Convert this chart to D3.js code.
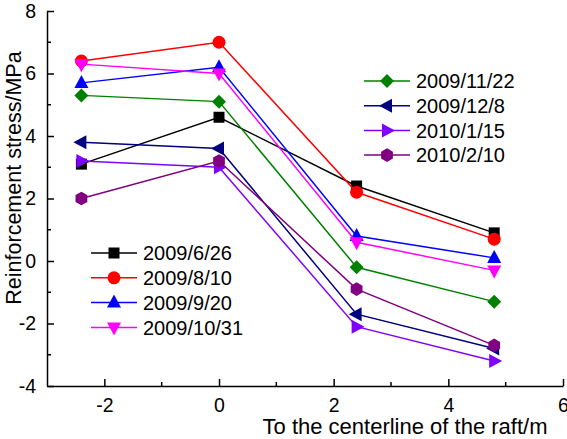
<!DOCTYPE html>
<html>
<head>
<meta charset="utf-8">
<script src="https://cdn.jsdelivr.net/npm/d3@7"></script>
<style>
  body { margin: 0; background: #fff; }
  text { font-family: "Liberation Sans", Arial, sans-serif; }
</style>
</head>
<body>
<div id="chart"></div>
<script>
// distance from raft centerline (m)
var positions = [-2.4, 0, 2.4, 4.8];

var dates = ["2009/6/26", "2009/8/10", "2009/9/20", "2009/10/31",
             "2009/11/22", "2009/12/8", "2010/1/15", "2010/2/10"];

var s0626 = [3.1, 4.6, 2.4, 0.9];
var s0810 = [6.4, 7.0, 2.2, 0.7];
var s0920 = [5.7, 6.2, 0.8, 0.1];
var s1031 = [6.3, 6.0, 0.6, -0.3];
var s1122 = [5.3, 5.1, -0.2, -1.3];
var s1208 = [3.8, 3.6, -1.7, -2.8];
var s0115 = [3.2, 3.0, -2.1, -3.2];
var s0210 = [2.0, 3.2, -0.9, -2.7];

var xTicks = [-2, 0, 2, 4, 6];
var yTicks = [-4, -2, 0, 2, 4, 6, 8];

var seriesValues = [s0626, s0810, s0920, s1031, s1122, s1208, s0115, s0210];
var colors = ["#000000", "#ff0000", "#0000ff", "#ff00ff",
              "#008000", "#000080", "#8000ff", "#800080"];
var symbols = ["square", "circle", "triUp", "triDown",
               "diamond", "triLeft", "triRight", "hex"];

var svgWidth = 567;
var svgHeight = 439;

var svg = d3.select("#chart")
    .append("svg")
    .attr("width", svgWidth)
    .attr("height", svgHeight);

var x = d3.scaleLinear().domain([-3, 6]).range([47, 563]);
var y = d3.scaleLinear().domain([-4, 8]).range([386, 11]);

// marker path centred on 0,0
function markerPath(kind) {
    var r = 6.5;
    switch (kind) {
        case "square": return "M-5.5,-5.5H5.5V5.5H-5.5Z";
        case "circle": return d3.symbol(d3.symbolCircle, Math.PI * r * r)();
        case "triUp": return "M0,-8L7,5H-7Z";
        case "triDown": return "M0,8L7,-5H-7Z";
        case "triLeft": return "M-8,0L5,-7V7Z";
        case "triRight": return "M8,0L-5,-7V7Z";
        case "diamond": return "M0,-7L7,0L0,7L-7,0Z";
        case "hex":
            var pts = d3.range(6).map(function(i) {
                var a = Math.PI / 3 * i + Math.PI / 6;
                return [Math.cos(a) * 6.8, Math.sin(a) * 6.8];
            });
            return "M" + pts.join("L") + "Z";
    }
}

// axes (plain hyphen for negatives, like the original)
var fmt = d => String(d);
var bottomAxis = d3.axisBottom(x).tickValues(xTicks).tickFormat(fmt).tickSizeInner(-7).tickSizeOuter(0).tickPadding(12);
var leftAxis = d3.axisLeft(y).tickValues(yTicks).tickFormat(fmt).tickSizeInner(-7).tickSizeOuter(0).tickPadding(11);

var gx = svg.append("g")
    .attr("transform", "translate(0," + y(-4) + ")")
    .call(bottomAxis);
var gy = svg.append("g")
    .attr("transform", "translate(" + x(-3) + ",0)")
    .call(leftAxis);

[gx, gy].forEach(function(g) {
    g.select(".domain").attr("stroke", "#000").attr("stroke-width", 1.5);
    g.selectAll(".tick line").attr("stroke-width", 1.5);
    g.selectAll(".tick text").attr("font-size", 19.5).attr("font-family", "Liberation Sans, Arial, sans-serif").attr("fill", "#000");
});

// minor ticks
svg.append("g").selectAll("line")
    .data([-1, 1, 3, 5])
    .join("line")
    .attr("x1", d => x(d)).attr("x2", d => x(d))
    .attr("y1", y(-4)).attr("y2", y(-4) - 4)
    .attr("stroke", "#000").attr("stroke-width", 1.5);
svg.append("g").selectAll("line")
    .data([-3, -1, 1, 3, 5, 7])
    .join("line")
    .attr("x1", x(-3)).attr("x2", x(-3) + 4)
    .attr("y1", d => y(d)).attr("y2", d => y(d))
    .attr("stroke", "#000").attr("stroke-width", 1.5);

// axis titles
svg.append("text")
    .attr("x", 405).attr("y", 434)
    .attr("text-anchor", "middle")
    .attr("font-size", 22)
    .text("To the centerline of the raft/m");

svg.append("text")
    .attr("transform", "translate(21,178) rotate(-90)")
    .attr("text-anchor", "middle")
    .attr("font-size", 21.5)
    .text("Reinforcement stress/MPa");

// series
var line = d3.line().x((d, i) => x(positions[i])).y(d => y(d));

seriesValues.forEach(function(vals, k) {
    var g = svg.append("g");
    g.append("path")
        .datum(vals)
        .attr("d", line)
        .attr("fill", "none")
        .attr("stroke", colors[k])
        .attr("stroke-width", 1.5);
    g.selectAll("path.mk")
        .data(vals)
        .join("path")
        .attr("class", "mk")
        .attr("transform", (d, i) => "translate(" + x(positions[i]) + "," + y(d) + ")")
        .attr("d", markerPath(symbols[k]))
        .attr("fill", colors[k]);
});

// legends
function drawLegend(items, x0, y0, dy) {
    items.forEach(function(k, j) {
        var g = svg.append("g").attr("transform", "translate(" + x0 + "," + (y0 + j * dy) + ")");
        g.append("line")
            .attr("x1", 0).attr("x2", 46)
            .attr("stroke", colors[k]).attr("stroke-width", 1.5);
        g.append("path")
            .attr("transform", "translate(23,0)")
            .attr("d", markerPath(symbols[k]))
            .attr("fill", colors[k]);
        g.append("text")
            .attr("x", 52).attr("y", 0)
            .attr("dy", "0.36em")
            .attr("font-size", 20)
            .text(dates[k]);
    });
}

drawLegend([0, 1, 2, 3], 91, 253, 24.8);
drawLegend([4, 5, 6, 7], 364, 81, 24.7);
</script>
</body>
</html>
